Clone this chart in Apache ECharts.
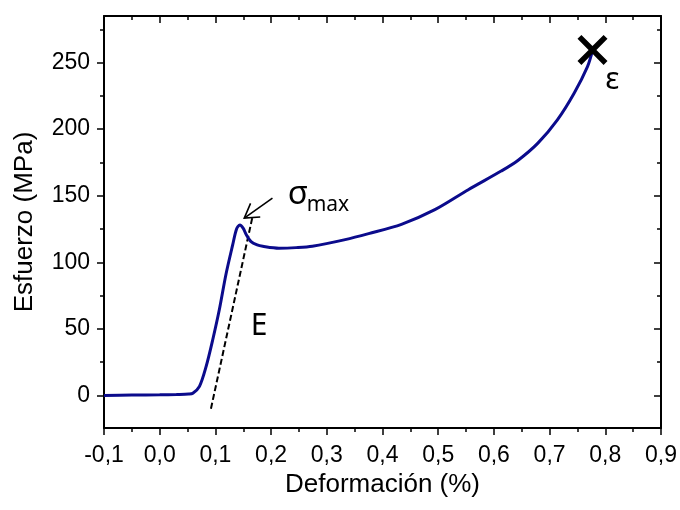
<!DOCTYPE html>
<html>
<head>
<meta charset="utf-8">
<script src="https://cdn.jsdelivr.net/npm/echarts@6/dist/echarts.min.js"></script>
<style>
  html, body { margin: 0; padding: 0; background: #ffffff; }
  #chart { width: 680px; height: 510px; }
</style>
</head>
<body>
<div id="chart"></div>
<script>
// Stress–strain curve (deformación %, esfuerzo MPa)
const strain = [-0.1, -0.05, 0.0, 0.03, 0.052, 0.0595, 0.0714, 0.0834, 0.0952, 0.107, 0.119, 0.131, 0.138, 0.144,
  0.150, 0.155, 0.164, 0.175, 0.185, 0.214, 0.245, 0.274, 0.333, 0.375, 0.434, 0.494, 0.554,
  0.613, 0.643, 0.679, 0.714, 0.744, 0.768, 0.777];
const stress = [0, 0.2, 0.4, 0.7, 1.0, 1.6, 6.8, 21.8, 41.8, 64.3, 91, 113, 125, 128,
  125.5, 121, 115.5, 113, 112, 110.6, 111, 112, 117, 121.5, 128.5, 139.5, 154.5,
  168.5, 176.5, 189.5, 207, 227, 247, 259];

// Elastic modulus guide line (E)
const modulusX = [0.092, 0.167];
const modulusY = [-10, 135];

// Failure point (ε) and maximum stress arrow (σmax)
const failurePoint = [0.777, 259.5];
const arrowTail = [0.2024, 148.2];
const arrowTip = [0.1518, 133.2];

// Annotation labels: [x, y, text, fontSize]
const annotations = [
  [0.248, 151.0, 'σ', 33],
  [0.302, 143.0, 'max', 21],
  [0.1785, 52.0, 'E', 30],
  [0.8125, 236.3, 'ε', 30]
];

// Axis ticks
const xMin = -0.1, xMax = 0.9, xStep = 0.1;
const yMin = -24.5, yMax = 285;
const yMajor = [0, 50, 100, 150, 200, 250];
const yMinor = [25, 75, 125, 175, 225, 275];

const chart = echarts.init(document.getElementById('chart'), null, { renderer: 'canvas' });

const axisFont = 'Liberation Sans, Arial, sans-serif';
const noteFont = 'Noto Sans, Open Sans, sans-serif';
const lineStyleAxis = { color: '#000', width: 2 };

function xAxisCfg(pos, showLabels) {
  return {
    type: 'value', position: pos, min: xMin, max: xMax, interval: xStep,
    axisLine: { show: true, onZero: false, lineStyle: lineStyleAxis },
    axisTick: { show: true, inside: pos === 'top', length: 7, lineStyle: { color: '#000', width: 1.5 } },
    minorTick: { show: true, splitNumber: 2, length: 4, lineStyle: { color: '#000', width: 1.5 } },
    axisLabel: {
      show: showLabels, margin: 16, color: '#000', fontSize: 23, fontFamily: axisFont,
      formatter: v => v.toFixed(1).replace('.', ',')
    },
    splitLine: { show: false },
    name: showLabels ? 'Deformación (%)' : '',
    nameLocation: 'middle', nameGap: 43,
    nameTextStyle: { color: '#000', fontSize: 26, fontFamily: axisFont }
  };
}

function yAxisCfg(pos, values, len, showLine, showLabels) {
  return {
    type: 'value', position: pos, min: yMin, max: yMax,
    axisLine: { show: showLine, onZero: false, lineStyle: lineStyleAxis },
    axisTick: { show: true, inside: pos === 'right', length: len, customValues: values,
      lineStyle: { color: '#000', width: 1.5 } },
    axisLabel: { show: showLabels, customValues: values, margin: 14, color: '#000', fontSize: 23, fontFamily: axisFont },
    splitLine: { show: false },
    name: showLabels ? 'Esfuerzo (MPa)' : '',
    nameLocation: 'middle', nameGap: 66, nameRotate: 90,
    nameTextStyle: { color: '#000', fontSize: 26, fontFamily: axisFont }
  };
}

const option = {
  backgroundColor: '#ffffff',
  animation: false,
  grid: { left: 104, right: 16, top: 16, bottom: 82, containLabel: false },
  xAxis: [xAxisCfg('bottom', true), xAxisCfg('top', false)],
  yAxis: [
    yAxisCfg('left', yMajor, 7, true, true),
    yAxisCfg('left', yMinor, 4, false, false),
    yAxisCfg('right', yMajor, 7, true, false),
    yAxisCfg('right', yMinor, 4, false, false)
  ],
  series: [
    {
      name: 'curva', type: 'line', xAxisIndex: 0, yAxisIndex: 0,
      data: strain.map((x, i) => [x, stress[i]]),
      smooth: 0.3, symbol: 'none',
      lineStyle: { color: '#0b0b8c', width: 3 }, z: 3
    },
    {
      name: 'E', type: 'line', xAxisIndex: 0, yAxisIndex: 0,
      data: modulusX.map((x, i) => [x, modulusY[i]]),
      symbol: 'none',
      lineStyle: { color: '#000', width: 2, type: [6, 3] }, z: 2
    },
    {
      name: 'rotura', type: 'scatter', xAxisIndex: 0, yAxisIndex: 0,
      data: [failurePoint],
      symbol: 'path://M2.6,0 L10,7.4 L17.4,0 L20,2.6 L12.6,10 L20,17.4 L17.4,20 L10,12.6 L2.6,20 L0,17.4 L7.4,10 L0,2.6 Z',
      symbolSize: 30,
      itemStyle: { color: '#000', opacity: 1 }, z: 5
    },
    {
      name: 'flecha', type: 'custom', xAxisIndex: 0, yAxisIndex: 0,
      data: [[arrowTail[0], arrowTail[1], arrowTip[0], arrowTip[1]]],
      renderItem: function (params, api) {
        const a = api.coord([api.value(0), api.value(1)]);
        const b = api.coord([api.value(2), api.value(3)]);
        const ang = Math.atan2(a[1] - b[1], a[0] - b[0]);
        const hl = 16, spread = 0.55;
        const w1 = [b[0] + hl * Math.cos(ang - spread), b[1] + hl * Math.sin(ang - spread)];
        const w2 = [b[0] + hl * Math.cos(ang + spread), b[1] + hl * Math.sin(ang + spread)];
        const st = { stroke: '#000', lineWidth: 1.6, fill: null };
        return {
          type: 'group', children: [
            { type: 'line', shape: { x1: a[0], y1: a[1], x2: b[0], y2: b[1] }, style: st },
            { type: 'polyline', shape: { points: [w1, b, w2] }, style: st }
          ]
        };
      },
      z: 6
    },
    {
      name: 'etiquetas', type: 'custom', xAxisIndex: 0, yAxisIndex: 0,
      data: annotations,
      renderItem: function (params, api) {
        const p = api.coord([api.value(0), api.value(1)]);
        const item = annotations[params.dataIndex];
        return {
          type: 'text', x: p[0], y: p[1],
          style: {
            text: item[2], fill: '#000', font: item[3] + 'px ' + noteFont,
            align: 'center', verticalAlign: 'middle'
          }
        };
      },
      z: 6
    }
  ]
};

chart.setOption(option);
</script>
</body>
</html>
